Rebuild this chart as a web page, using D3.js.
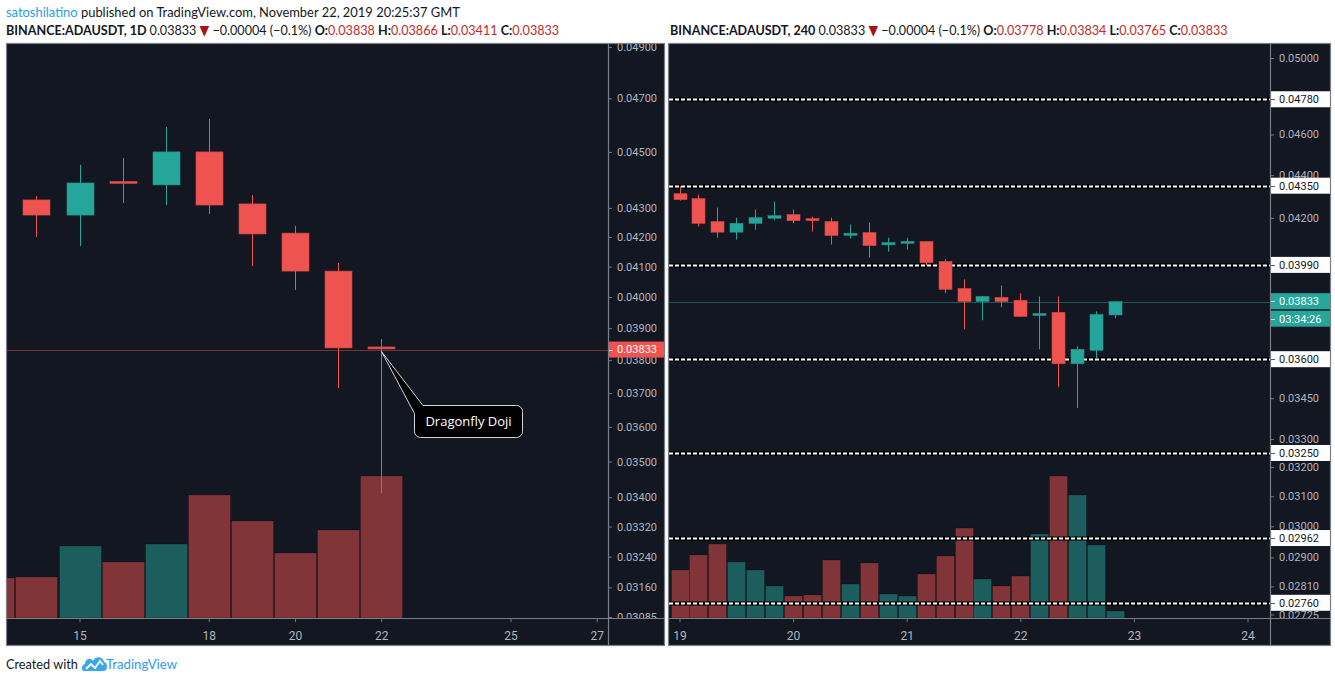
<!DOCTYPE html>
<html><head><meta charset="utf-8">
<script src="https://cdn.jsdelivr.net/npm/d3@7"></script>
<style>html,body{margin:0;padding:0;background:#fff;}svg{display:block;}</style>
</head><body>
<svg id="c" width="1335" height="682"></svg>
<script>
// ---------------- DATA ----------------
// Left chart: BINANCE:ADAUSDT 1D
const leftDates  = ["2019-11-14","2019-11-15","2019-11-16","2019-11-17","2019-11-18","2019-11-19","2019-11-20","2019-11-21","2019-11-22"];
const leftOpen   = [0.04328,0.04275,0.04390,0.04381,0.04500,0.04314,0.04213,0.04085,0.03838];
const leftHigh   = [0.04342,0.04453,0.04478,0.04592,0.04622,0.04345,0.04238,0.04112,0.03866];
const leftLow    = [0.04200,0.04169,0.04317,0.04310,0.04279,0.04102,0.04023,0.03715,0.03411];
const leftClose  = [0.04275,0.04388,0.04385,0.04500,0.04310,0.04210,0.04085,0.03838,0.03833];
const leftVolDates = ["2019-11-13","2019-11-14","2019-11-15","2019-11-16","2019-11-17","2019-11-18","2019-11-19","2019-11-20","2019-11-21","2019-11-22"];
const leftVolume = [40,41,72,56,74,123,97,65,88,142];
const leftVolUp  = [false,false,true,false,true,false,false,false,false,false];
const leftPriceTicks = [0.049,0.047,0.045,0.043,0.042,0.041,0.040,0.039,0.038,0.037,0.036,0.035,0.034,0.0332,0.0324,0.0316,0.03085];
const leftDayTicks = ["2019-11-15","2019-11-18","2019-11-20","2019-11-22","2019-11-25","2019-11-27"];
const leftLast = 0.03833;

// Right chart: BINANCE:ADAUSDT 240 (4h)
const rightTimes = ["2019-11-19T00:00Z","2019-11-19T04:00Z","2019-11-19T08:00Z","2019-11-19T12:00Z","2019-11-19T16:00Z","2019-11-19T20:00Z",
  "2019-11-20T00:00Z","2019-11-20T04:00Z","2019-11-20T08:00Z","2019-11-20T12:00Z","2019-11-20T16:00Z","2019-11-20T20:00Z",
  "2019-11-21T00:00Z","2019-11-21T04:00Z","2019-11-21T08:00Z","2019-11-21T12:00Z","2019-11-21T16:00Z","2019-11-21T20:00Z",
  "2019-11-22T00:00Z","2019-11-22T04:00Z","2019-11-22T08:00Z","2019-11-22T12:00Z","2019-11-22T16:00Z","2019-11-22T20:00Z"];
const rightOpen  = [0.04312,0.04289,0.04183,0.04135,0.04175,0.04198,0.04215,0.04192,0.04183,0.04121,0.04133,0.04078,0.04085,0.04093,0.04005,0.03889,0.03834,0.03851,0.03839,0.03772,0.03789,0.03582,0.03635,0.03778];
const rightHigh  = [0.04347,0.04308,0.04247,0.04201,0.04238,0.04275,0.04238,0.04206,0.04201,0.04169,0.04179,0.04110,0.04110,0.04095,0.04014,0.03927,0.03857,0.03901,0.03868,0.03855,0.03855,0.03651,0.03793,0.03834];
const rightLow   = [0.04280,0.04160,0.04110,0.04102,0.04146,0.04189,0.04175,0.04138,0.04080,0.04106,0.04022,0.04048,0.04057,0.03987,0.03868,0.03719,0.03756,0.03810,0.03770,0.03639,0.03492,0.03413,0.03600,0.03765];
const rightClose = [0.04284,0.04175,0.04135,0.04175,0.04201,0.04210,0.04187,0.04185,0.04120,0.04130,0.04075,0.04088,0.04094,0.04000,0.03885,0.03834,0.03855,0.03834,0.03772,0.03780,0.03582,0.03639,0.03780,0.03833];
const rightVolume = [48,63,74,56,48,32,22,23,58,34,55,24,22,44,62,90,39,32,42,84,142,123,73,7];
const rightLevels = [0.0478,0.0435,0.0399,0.0360,0.0325,0.02962,0.0276];
const rightPriceTicks = [0.050,0.046,0.044,0.042,0.0345,0.033,0.032,0.031,0.030,0.029,0.0281,0.02725];
const rightDayTicks = ["2019-11-19","2019-11-20","2019-11-21","2019-11-22","2019-11-23","2019-11-24"];
const rightLast = 0.03833;
const rightTimer = "03:34:26";

// ---------------- STYLE ----------------
const BG = "#131722", UP = "#26a69a", DN = "#ef5350", AX = "#b2b5be", FRAME = "#7b7e87";
const AXFONT = "Roboto, 'DejaVu Sans', sans-serif";
const HFONT = "Lato, 'Open Sans', sans-serif";
const DAY = 864e5;
const fmt = d3.format(".5f");
const svg = d3.select("#c");
const defs = svg.append("defs");
const parseD = s => new Date(s.length === 10 ? s + "T00:00Z" : s);

function panel(cfg) {
  const {id, x0, x1, axX, top, bot, axBot} = cfg;
  svg.append("rect").attr("x", x0).attr("y", top).attr("width", x1 - x0).attr("height", axBot - top).attr("fill", BG);
  defs.append("clipPath").attr("id", "plot" + id).append("rect").attr("x", x0 + 1).attr("y", top + 1).attr("width", axX - x0 - 1).attr("height", bot - top - 1);
  defs.append("clipPath").attr("id", "ax" + id).append("rect").attr("x", axX).attr("y", top + 1).attr("width", x1 - axX).attr("height", bot - top - 1);
  const plot = svg.append("g").attr("clip-path", `url(#plot${id})`);
  const axg = svg.append("g").attr("clip-path", `url(#ax${id})`);
  return {plot, axg};
}

function frame(cfg) {
  const {x0, x1, axX, top, bot, axBot} = cfg;
  const g = svg.append("g").attr("fill", "none").attr("stroke", FRAME).attr("stroke-width", 1.2);
  g.append("rect").attr("x", x0 + 0.5).attr("y", top + 0.5).attr("width", x1 - x0 - 1).attr("height", axBot - top - 1);
  g.append("line").attr("x1", axX + 0.5).attr("x2", axX + 0.5).attr("y1", top).attr("y2", axBot);
  g.append("line").attr("x1", x0).attr("x2", x1).attr("y1", bot + 0.5).attr("y2", bot + 0.5);
}

function candles(g, x, y, times, O, H, L, C, bw) {
  const d = times.map((t, i) => ({t: parseD(t), o: O[i], h: H[i], l: L[i], c: C[i]}));
  const cg = g.append("g");
  cg.selectAll("line.w").data(d).join("line")
    .attr("x1", k => Math.round(x(k.t)) + 0.5).attr("x2", k => Math.round(x(k.t)) + 0.5)
    .attr("y1", k => y(k.h)).attr("y2", k => y(k.l))
    .attr("stroke", k => k.c >= k.o ? UP : DN).attr("stroke-width", 1);
  cg.selectAll("rect").data(d).join("rect")
    .attr("x", k => Math.round(x(k.t)) + 0.5 - bw / 2)
    .attr("width", bw)
    .attr("y", k => Math.min(y(k.o), y(k.c)) - (Math.abs(y(k.o) - y(k.c)) < 2 ? 1 : 0))
    .attr("height", k => Math.max(2, Math.abs(y(k.o) - y(k.c))))
    .attr("fill", k => k.c >= k.o ? UP : DN)
    .attr("stroke", k => d3.color(k.c >= k.o ? UP : DN).darker(0.4)).attr("stroke-width", 0.6);
}

function volume(g, x, yv, times, vols, ups, bw) {
  g.append("g").selectAll("rect").data(times.map((t, i) => ({t: parseD(t), v: vols[i], up: ups[i]}))).join("rect")
    .attr("x", k => Math.round(x(k.t)) + 0.5 - bw / 2)
    .attr("width", bw)
    .attr("y", k => yv(k.v)).attr("height", k => yv(0) - yv(k.v))
    .attr("fill", k => k.up ? UP : DN).attr("fill-opacity", 0.5)
    .attr("stroke", "#000").attr("stroke-opacity", 0.25).attr("stroke-width", 0.8);
}

function priceAxis(axg, cfg, y, ticks, textX) {
  const a = axg.append("g").attr("transform", `translate(${cfg.axX},0)`);
  const ax = d3.axisRight(y).tickValues(ticks).tickFormat(fmt).tickSize(4).tickPadding(textX - 4);
  a.call(ax);
  a.select(".domain").remove();
  a.selectAll(".tick line").attr("stroke", AX).attr("stroke-opacity", 0.6);
  a.selectAll(".tick text").attr("fill", AX).attr("font-family", AXFONT).attr("font-size", 11);
}

function timeAxis(cfg, x, ticks) {
  const g = svg.append("g").attr("transform", `translate(0,${cfg.bot})`);
  const ax = d3.axisBottom(x).tickValues(ticks.map(parseD)).tickFormat(d3.utcFormat("%-d")).tickSize(4).tickPadding(9);
  g.call(ax);
  g.select(".domain").remove();
  g.selectAll(".tick line").attr("stroke", AX).attr("stroke-opacity", 0.6);
  g.selectAll(".tick text").attr("fill", AX).attr("font-family", AXFONT).attr("font-size", 12);
}

function priceTag(cfg, yy, txt, fill, color, w) {
  const g = svg.append("g");
  g.append("rect").attr("x", cfg.axX + 1).attr("y", yy - 8).attr("width", w).attr("height", 16).attr("fill", fill);
  g.append("line").attr("x1", cfg.axX + 1).attr("x2", cfg.axX + 5).attr("y1", Math.round(yy) + 0.5).attr("y2", Math.round(yy) + 0.5).attr("stroke", color).attr("stroke-opacity", 0.7);
  g.append("text").attr("x", cfg.axX + 9).attr("y", yy).attr("dy", "0.35em").text(txt)
    .attr("fill", color).attr("font-family", AXFONT).attr("font-size", 11);
}

// ---------------- LEFT PANEL ----------------
const L = {id: "L", x0: 6, x1: 665, axX: 608, top: 43, bot: 618, axBot: 646};
const lp = panel(L);
const xL = d3.scaleUtc()
  .domain([new Date(Date.UTC(2019, 10, 15) - (79.5 - 7) / 43.1 * DAY), new Date(Date.UTC(2019, 10, 15) + (608 - 79.5) / 43.1 * DAY)])
  .range([7, 608]);
const yL = d3.scaleLog().domain([0.03085, 0.049]).range([617, 47]);
const yLv = d3.scaleLinear().domain([0, d3.max(leftVolume)]).range([618, 476]);
volume(lp.plot, xL, yLv, leftVolDates, leftVolume, leftVolUp, 42);
lp.plot.append("line").attr("x1", 7).attr("x2", 608).attr("y1", Math.round(yL(leftLast)) + 0.5).attr("y2", Math.round(yL(leftLast)) + 0.5)
  .attr("stroke", DN).attr("stroke-opacity", 0.45);
candles(lp.plot, xL, yL, leftDates, leftOpen, leftHigh, leftLow, leftClose, 27);
priceAxis(lp.axg, L, yL, leftPriceTicks, 9);
timeAxis(L, xL, leftDayTicks);
priceTag(L, yL(leftLast), fmt(leftLast), DN, "#fff", 56);

// Callout "Dragonfly Doji"
{
  const last = leftDates.length - 1;
  const tx = Math.round(xL(parseD(leftDates[last]))) + 0.5, ty = yL(leftClose[last]) + 2;
  const bx0 = 414.5, by0 = 405.5, bx1 = 522.5, by1 = 437.5, r = 6;
  const p = d3.path();
  p.moveTo(423, by0); p.lineTo(bx1 - r, by0); p.arcTo(bx1, by0, bx1, by0 + r, r);
  p.lineTo(bx1, by1 - r); p.arcTo(bx1, by1, bx1 - r, by1, r);
  p.lineTo(bx0 + r, by1); p.arcTo(bx0, by1, bx0, by1 - r, r);
  p.lineTo(bx0, by0 + 8); p.lineTo(tx, ty); p.closePath();
  svg.append("path").attr("d", p.toString()).attr("fill", "#000").attr("stroke", "#d1d4dc").attr("stroke-width", 1);
  svg.append("text").attr("x", (bx0 + bx1) / 2).attr("y", (by0 + by1) / 2).attr("dy", "0.36em").attr("text-anchor", "middle")
    .attr("fill", "#fff").attr("font-family", "'Open Sans', sans-serif").attr("font-size", 13).text("Dragonfly Doji");
}

// ---------------- RIGHT PANEL ----------------
const R = {id: "R", x0: 668, x1: 1331, axX: 1270, top: 43, bot: 618, axBot: 646};
const rp = panel(R);
const t0 = Date.UTC(2019, 10, 19);
const xR = d3.scaleUtc()
  .domain([new Date(t0 - (679.5 - 669) / 113.6 * DAY), new Date(t0 + (1270 - 679.5) / 113.6 * DAY)])
  .range([669, 1270]);
const yR = d3.scaleLog().domain([0.02725, 0.05]).range([614.5, 58]);
const yRv = d3.scaleLinear().domain([0, d3.max(rightVolume)]).range([618, 476]);
volume(rp.plot, xR, yRv, rightTimes, rightVolume, rightOpen.map((o, i) => rightClose[i] >= o), 18);
const lv = rp.plot.append("g");
rightLevels.forEach(v => {
  const yy = Math.round(yR(v)) + 0.5;
  lv.append("line").attr("x1", 669).attr("x2", 1270).attr("y1", yy).attr("y2", yy).attr("stroke", "#000").attr("stroke-width", 4);
  lv.append("line").attr("x1", 669).attr("x2", 1270).attr("y1", yy).attr("y2", yy).attr("stroke", "#fff").attr("stroke-width", 2).attr("stroke-dasharray", "4 2");
});
rp.plot.append("line").attr("x1", 669).attr("x2", 1270).attr("y1", Math.round(yR(rightLast)) + 0.5).attr("y2", Math.round(yR(rightLast)) + 0.5)
  .attr("stroke", UP).attr("stroke-opacity", 0.45);
candles(rp.plot, xR, yR, rightTimes, rightOpen, rightHigh, rightLow, rightClose, 13);
priceAxis(rp.axg, R, yR, rightPriceTicks, 9);
timeAxis(R, xR, rightDayTicks);
rightLevels.forEach(v => priceTag(R, yR(v), fmt(v), "#fff", "#131722", 60));
priceTag(R, yR(rightLast) - 0.5, fmt(rightLast), UP, "#fff", 60);
priceTag(R, yR(rightLast) + 17, rightTimer, UP, "#fff", 60);

frame(L); frame(R);

// ---------------- HEADERS ----------------
function header(x, y, segs, width, size) {
  const t = svg.append("text").attr("y", 0).attr("font-family", HFONT).attr("font-size", size).attr("fill", "#131722");
  segs.forEach(s => {
    const ts = t.append("tspan").text(s.t);
    if (s.c) ts.attr("fill", s.c);
    if (s.b) ts.attr("font-weight", 700);
    if (s.f) ts.attr("font-family", s.f).attr("font-size", size);
  });
  const w = t.node().getComputedTextLength();
  t.attr("transform", `translate(${x},${y}) scale(${width / w},1)`);
}
const RED = "#c62828";
header(6, 17, [{t: "satoshilatino", c: "#2b9de8"}, {t: " published on TradingView.com, November 22, 2019 20:25:37 GMT"}], 454, 14);
function quote(tf, o, h, l, c) {
  return [{t: "BINANCE:ADAUSDT, " + tf + " ", b: 1}, {t: "0.03833 "}, {t: "▼", c: "#a31515", f: "'DejaVu Sans', sans-serif"},
    {t: " −0.00004 (−0.1%) "}, {t: "O:", b: 1}, {t: o + " ", c: RED}, {t: "H:", b: 1}, {t: h + " ", c: RED},
    {t: "L:", b: 1}, {t: l + " ", c: RED}, {t: "C:", b: 1}, {t: c, c: RED}];
}
header(6, 35, quote("1D", "0.03838", "0.03866", "0.03411", "0.03833"), 554, 14);
header(670, 35, quote("240", "0.03778", "0.03834", "0.03765", "0.03833"), 558, 14);

// Footer
header(6, 669, [{t: "Created with"}], 72, 14);
{
  const g = svg.append("g").attr("transform", "translate(82,655)");
  g.append("path").attr("d", "M2,16 C-1,16 -1,10 3,9 C3,4 9,2 11,6 C13,1 21,1 22,7 C26,7 26,16 22,16 Z").attr("fill", "#3aa6ee");
  g.append("polyline").attr("points", "4,14 9,9 13,13 18,6 21,10").attr("fill", "none").attr("stroke", "#fff").attr("stroke-width", 1.8);
}
header(106, 669, [{t: "TradingView", c: "#2b9de8"}], 71, 14);
</script>
</body></html>
